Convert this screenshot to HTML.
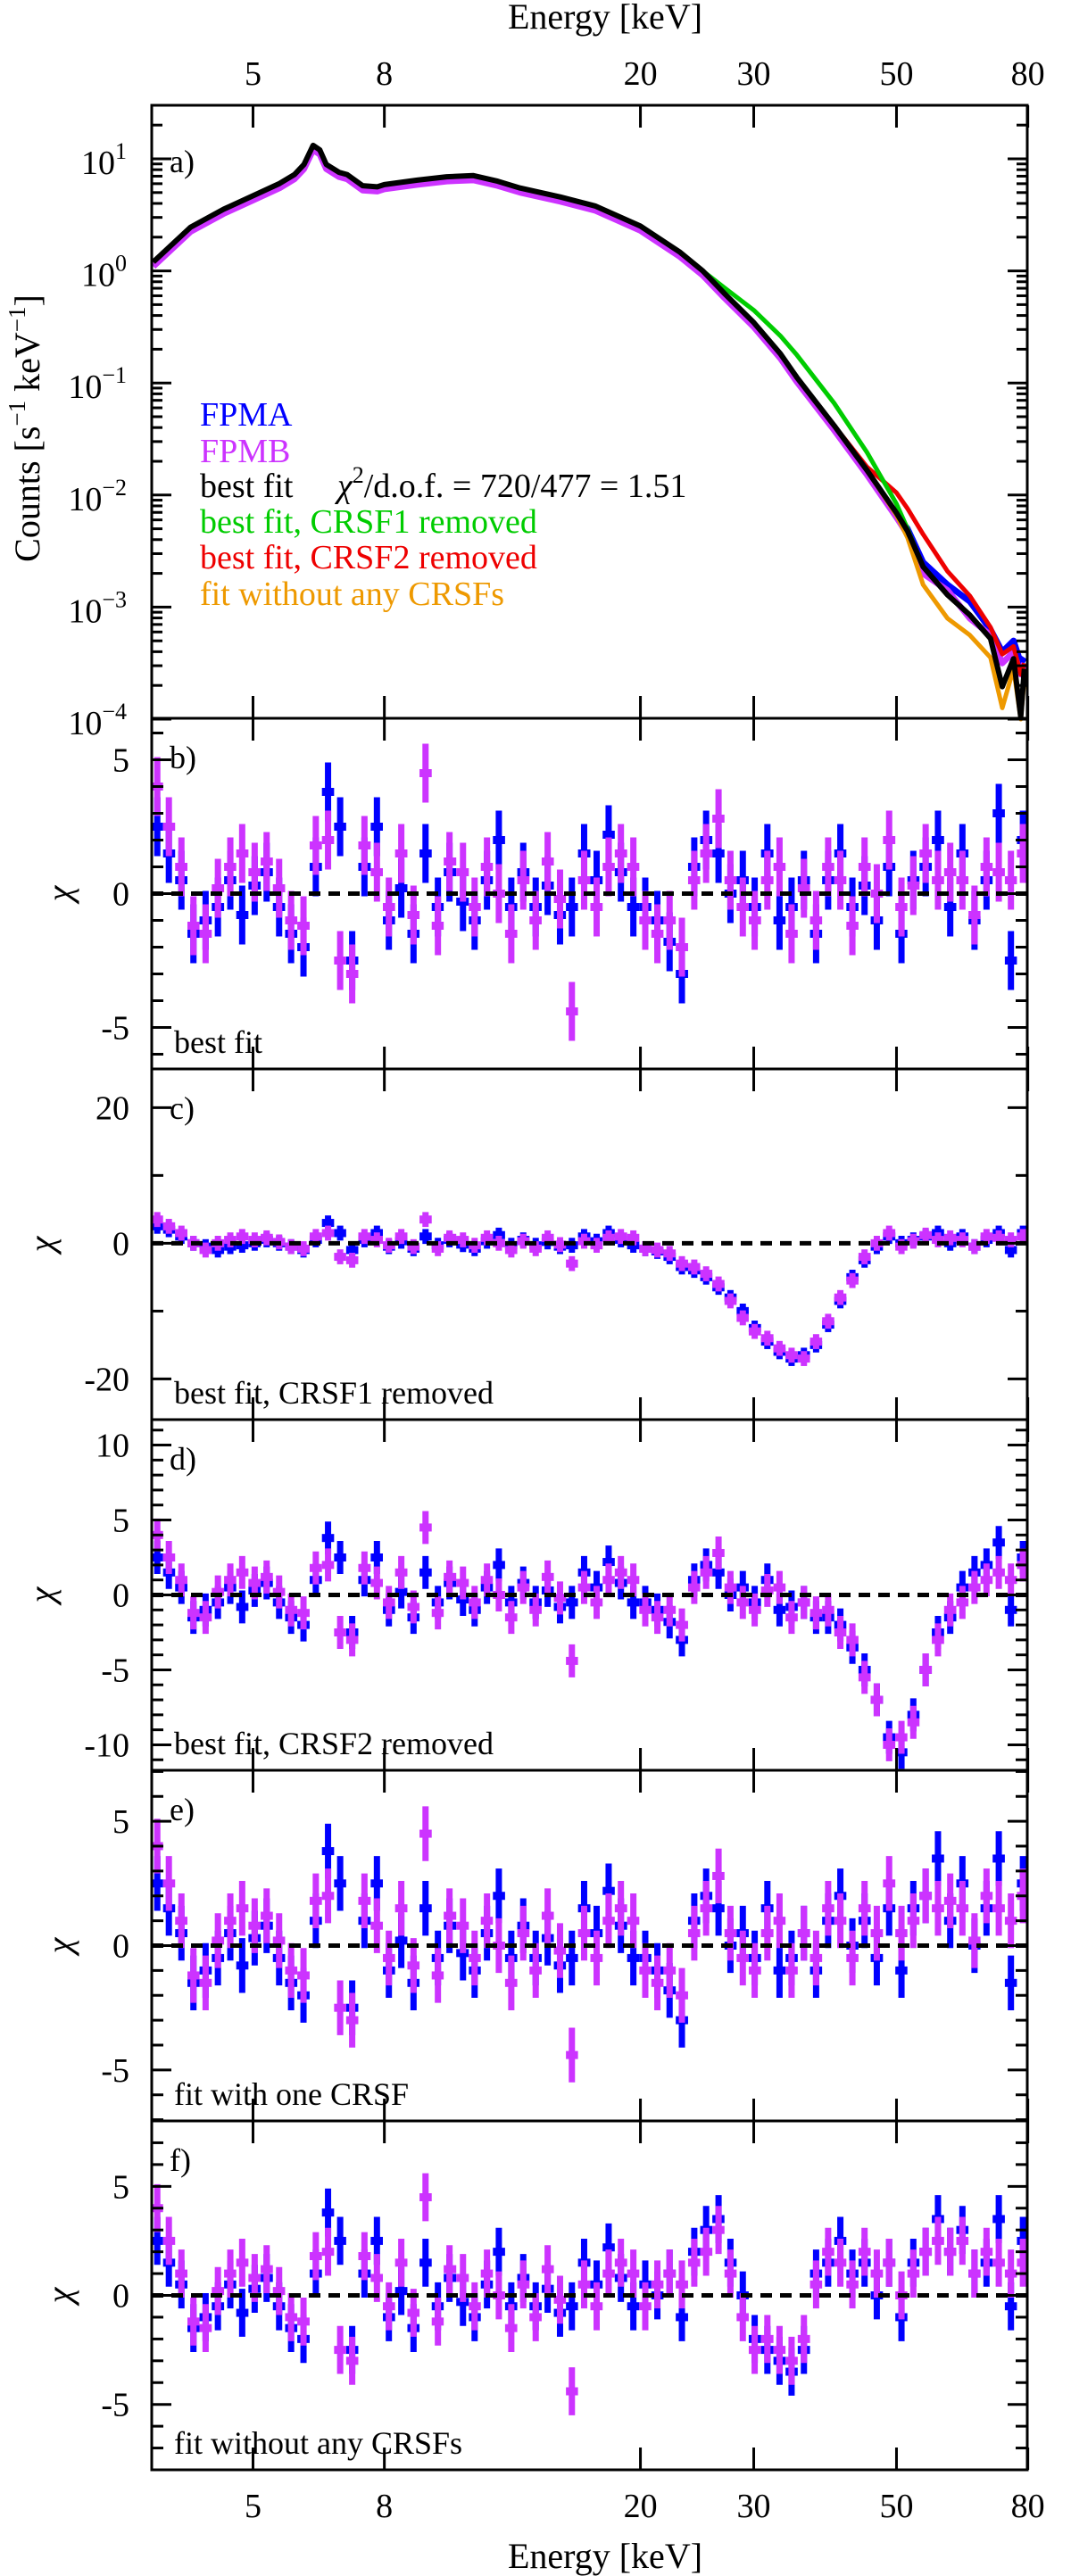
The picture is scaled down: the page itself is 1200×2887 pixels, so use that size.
<!DOCTYPE html>
<html><head><meta charset="utf-8"><style>
html,body{margin:0;padding:0;background:#fff}
svg{display:block}
svg text{font-family:"Liberation Serif",serif !important}
</style></head><body>
<svg id="chart" xmlns="http://www.w3.org/2000/svg" width="1200" height="2887" viewBox="0 0 1200 2887" font-family="Liberation Serif, serif">
<rect width="1200" height="2887" fill="#fff"/>
<g id="layer"></g>
</svg>
<script>
// ---------- data ----------
const xTicks=[5,8,20,30,50,80];
const xTickLabels=["5","8","20","30","50","80"];
const specE=[3.5,4,4.5,5,5.5,5.8,6.0,6.2,6.35,6.5,6.8,7.0,7.4,7.8,8,9,10,11,12,13,15,17,20,23,25,27,30,33,35,40,45,50,52,55,60,65,70,73,76,78,79];
const specBest=[0.08,0.39,0.55,0.67,0.78,0.86,0.95,1.12,1.08,0.95,0.88,0.86,0.76,0.75,0.77,0.81,0.84,0.85,0.80,0.74,0.66,0.58,0.40,0.17,0.0,-0.2,-0.46,-0.74,-0.95,-1.38,-1.78,-2.16,-2.32,-2.64,-2.89,-3.07,-3.28,-3.71,-3.46,-3.98,-3.55];
const specNoCrsf1=[0.08,0.39,0.55,0.67,0.78,0.86,0.95,1.12,1.08,0.95,0.88,0.86,0.76,0.75,0.77,0.81,0.84,0.85,0.80,0.74,0.66,0.58,0.40,0.17,0.0,-0.15,-0.35,-0.58,-0.75,-1.18,-1.62,-2.08,-2.3,-2.64,-2.89,-3.07,-3.28,-3.71,-3.46,-3.98,-3.55];
const specNoCrsf2=[0.08,0.39,0.55,0.67,0.78,0.86,0.95,1.12,1.08,0.95,0.88,0.86,0.76,0.75,0.77,0.81,0.84,0.85,0.80,0.74,0.66,0.58,0.40,0.17,0.0,-0.2,-0.46,-0.74,-0.95,-1.38,-1.75,-1.98,-2.12,-2.35,-2.68,-2.9,-3.18,-3.42,-3.35,-3.6,-3.5];
const specNoCrsfs=[0.08,0.39,0.55,0.67,0.78,0.86,0.95,1.12,1.08,0.95,0.88,0.86,0.76,0.75,0.77,0.81,0.84,0.85,0.80,0.74,0.66,0.58,0.40,0.17,0.0,-0.2,-0.46,-0.74,-0.95,-1.38,-1.78,-2.18,-2.38,-2.8,-3.1,-3.25,-3.45,-3.9,-3.55,-4.0,-3.65];
const specFPMA=[0.06,0.37,0.53,0.65,0.76,0.84,0.93,1.10,1.06,0.93,0.86,0.84,0.74,0.73,0.75,0.79,0.82,0.83,0.78,0.72,0.64,0.56,0.38,0.15,-0.02,-0.22,-0.48,-0.76,-0.97,-1.40,-1.80,-2.18,-2.3,-2.6,-2.8,-2.95,-3.2,-3.4,-3.3,-3.5,-3.45];
const specFPMB=[0.04,0.35,0.51,0.63,0.74,0.82,0.91,1.08,1.04,0.91,0.84,0.82,0.72,0.71,0.73,0.77,0.80,0.81,0.76,0.70,0.62,0.54,0.36,0.13,-0.04,-0.24,-0.5,-0.78,-0.99,-1.42,-1.82,-2.2,-2.35,-2.7,-2.85,-3.1,-3.25,-3.5,-3.4,-3.6,-3.5];

const resE=[3.55,3.7,3.87,4.04,4.22,4.41,4.61,4.81,5.03,5.25,5.49,5.73,5.99,6.26,6.54,6.83,7.13,7.45,7.79,8.13,8.5,8.88,9.27,9.69,10.1,10.6,11.05,11.55,12.05,12.6,13.15,13.75,14.35,15.0,15.65,16.35,17.1,17.85,18.65,19.5,20.35,21.25,22.2,23.2,24.25,25.3,26.45,27.6,28.85,30.1,31.5,32.9,34.35,35.9,37.5,39.15,40.9,42.7,44.6,46.6,48.7,50.9,53.1,55.5,58.0,60.6,63.3,66.1,69.0,72.1,75.3,78.6];
const bA=[2.5,1.5,0.5,-1.5,-1.0,-0.5,0.5,-0.8,0.3,0.8,-0.5,-1.5,-2.0,1.0,3.8,2.5,-2.5,1.0,2.5,-1.0,0.2,-1.5,1.5,-0.5,0.8,-0.3,-1.0,0.5,2.0,-0.5,0.8,-0.5,0.3,-0.8,-0.5,1.5,0.5,2.2,0.8,-0.5,-0.5,-1.0,-1.8,-3.0,1.0,2.0,1.5,0.0,0.5,-0.5,1.5,-1.0,-0.5,0.5,-1.5,0.5,1.5,-0.5,0.3,-1.0,1.0,-1.5,0.5,1.0,2.0,-0.5,1.5,-1.0,0.5,3.0,-2.5,2.0];
const bB=[4.0,2.5,1.0,-1.2,-1.5,0.2,1.0,1.5,0.8,1.2,0.2,-1.0,-1.2,1.8,2.0,-2.5,-3.0,1.8,0.8,-0.5,1.5,-0.8,4.5,-1.2,1.2,0.8,-0.5,1.0,0.0,-1.5,0.5,-1.0,1.2,-0.2,-4.4,0.5,-0.5,1.0,1.5,1.0,-1.0,-1.5,-1.0,-2.0,0.5,1.5,2.8,0.5,-0.5,-1.0,0.5,1.0,-1.5,0.2,-1.0,1.0,0.5,-1.2,1.0,0.0,2.0,-0.5,0.3,1.5,0.5,0.8,0.5,-0.8,1.0,0.8,0.5,1.5];
const cA=[2.5,2.0,1.0,0.0,-0.5,-1.0,-0.5,-0.3,0.0,0.5,0.0,-0.5,-1.0,0.5,3.0,1.5,-1.0,0.5,1.5,-0.5,0.3,-0.8,1.0,-0.3,0.5,-0.2,-0.8,0.3,1.2,-0.3,0.5,-0.3,0.2,-0.5,-0.3,1.0,0.3,1.5,0.5,-0.3,-0.8,-1.2,-2.0,-3.5,-4.0,-5.0,-6.5,-8.0,-10.0,-12.5,-14.5,-16.0,-17.0,-16.5,-15.0,-12.0,-8.5,-5.0,-2.5,-0.5,1.0,0.0,0.5,1.0,1.5,0.0,1.0,-0.5,0.5,1.5,-1.0,1.5];
const cB=[3.5,2.5,1.5,0.0,-1.0,0.0,0.5,1.0,0.5,0.8,0.2,-0.5,-0.8,1.0,1.5,-2.0,-2.5,1.0,0.5,-0.3,1.0,-0.5,3.5,-0.8,0.8,0.5,-0.3,0.8,0.0,-1.0,0.3,-0.8,0.8,-0.2,-3.0,0.3,-0.3,0.8,1.0,0.8,-0.8,-1.0,-1.5,-3.0,-3.5,-4.5,-6.0,-8.5,-11.0,-13.0,-14.0,-15.5,-16.5,-17.0,-14.5,-11.5,-8.0,-5.5,-2.0,0.0,1.5,-0.5,0.3,1.2,0.5,0.8,0.5,-0.5,1.0,0.8,0.5,1.0];
const dA=[2.5,1.5,0.5,-1.5,-1.0,-0.5,0.5,-0.8,0.3,0.8,-0.5,-1.5,-2.0,1.0,3.8,2.5,-2.5,1.0,2.5,-1.0,0.2,-1.5,1.5,-0.5,0.8,-0.3,-1.0,0.5,2.0,-0.5,0.8,-0.5,0.3,-0.8,-0.5,1.5,0.5,2.2,0.8,-0.5,-0.5,-1.0,-1.8,-3.0,1.0,2.0,1.5,0.0,0.5,-0.5,1.0,-1.0,-0.8,-0.5,-1.5,-1.5,-2.0,-3.5,-5.0,-7.0,-9.5,-10.5,-8.0,-5.0,-2.5,-1.5,0.5,1.5,2.0,3.5,-1.0,2.5];
const dB=[4.0,2.5,1.0,-1.2,-1.5,0.2,1.0,1.5,0.8,1.2,0.2,-1.0,-1.2,1.8,2.0,-2.5,-3.0,1.8,0.8,-0.5,1.5,-0.8,4.5,-1.2,1.2,0.8,-0.5,1.0,0.0,-1.5,0.5,-1.0,1.2,-0.2,-4.4,0.5,-0.5,1.0,1.5,1.0,-1.0,-1.5,-1.0,-2.0,0.5,1.5,2.8,0.5,-0.5,-1.0,0.3,0.5,-1.5,-0.5,-1.2,-1.0,-2.5,-3.0,-5.5,-7.0,-10.0,-9.5,-8.5,-5.0,-3.0,-1.0,-0.5,0.5,1.0,1.5,1.0,2.0];
const eA=[2.5,1.5,0.5,-1.5,-1.0,-0.5,0.5,-0.8,0.3,0.8,-0.5,-1.5,-2.0,1.0,3.8,2.5,-2.5,1.0,2.5,-1.0,0.2,-1.5,1.5,-0.5,0.8,-0.3,-1.0,0.5,2.0,-0.5,0.8,-0.5,0.3,-0.8,-0.5,1.5,0.5,2.2,0.8,-0.5,-0.5,-1.0,-1.8,-3.0,1.0,2.0,1.5,0.0,0.5,-0.5,1.5,-1.0,-0.5,0.5,-1.0,1.0,2.0,0.0,1.0,-0.5,1.5,-1.0,1.5,2.0,3.5,1.0,2.5,0.0,1.5,3.5,-1.5,2.5];
const eB=[4.0,2.5,1.0,-1.2,-1.5,0.2,1.0,1.5,0.8,1.2,0.2,-1.0,-1.2,1.8,2.0,-2.5,-3.0,1.8,0.8,-0.5,1.5,-0.8,4.5,-1.2,1.2,0.8,-0.5,1.0,0.0,-1.5,0.5,-1.0,1.2,-0.2,-4.4,0.5,-0.5,1.0,1.5,1.0,-1.0,-1.5,-1.0,-2.0,0.5,1.5,2.8,0.5,-0.5,-1.0,0.5,1.0,-1.0,0.5,-0.5,1.5,1.0,-0.5,1.5,0.5,2.5,0.5,1.0,2.0,1.5,1.8,1.5,0.2,2.0,1.5,1.0,2.0];
const fA=[2.5,1.5,0.5,-1.5,-1.0,-0.5,0.5,-0.8,0.3,0.8,-0.5,-1.5,-2.0,1.0,3.8,2.5,-2.5,1.0,2.5,-1.0,0.2,-1.5,1.5,-0.5,0.8,-0.3,-1.0,0.5,2.0,-0.5,0.8,-0.5,0.3,-0.8,-0.5,1.5,0.5,2.2,0.8,-0.5,0.5,0.0,1.0,-1.0,2.0,3.0,3.5,1.5,0.0,-2.0,-2.5,-3.0,-3.5,-2.5,1.0,1.5,2.5,1.0,1.5,0.0,1.5,-1.0,1.5,2.0,3.5,2.0,3.0,1.0,1.5,3.5,-0.5,2.5];
const fB=[4.0,2.5,1.0,-1.2,-1.5,0.2,1.0,1.5,0.8,1.2,0.2,-1.0,-1.2,1.8,2.0,-2.5,-3.0,1.8,0.8,-0.5,1.5,-0.8,4.5,-1.2,1.2,0.8,-0.5,1.0,0.0,-1.5,0.5,-1.0,1.2,-0.2,-4.4,0.5,-0.5,1.0,1.5,1.0,-0.5,0.5,1.0,0.5,1.5,2.0,3.0,1.0,-1.0,-2.5,-2.0,-2.5,-3.0,-2.0,0.5,2.0,1.5,0.5,2.0,1.0,1.5,0.0,1.0,2.0,2.5,2.0,2.5,1.0,2.0,1.5,1.0,1.5];

// ---------- helpers ----------
const NS="http://www.w3.org/2000/svg";
const layer=document.getElementById('layer');
const X0=170,X1=1151,LMIN=Math.log10(3.48),PXD=721;
function xs(e){return X0+(Math.log10(e)-LMIN)*PXD;}
function mk(tag,attrs,parent){const el=document.createElementNS(NS,tag);for(const k in attrs)el.setAttribute(k,attrs[k]);(parent||layer).appendChild(el);return el;}
function txt(s,x,y,size,anchor,parent,color){const t=mk('text',{x:x,y:y,'font-size':size,'text-anchor':anchor||'start',fill:color||'#000','font-family':'Liberation Serif, serif'},parent);t.textContent=s;return t;}
const BLUE='#0000ff',PURP='#cc33ff';

// ---------- panel a ----------
const aTop=118,aBot=805;
function ya(l){return 178+(1-l)*125.6;}
const gA=mk('g',{});


function curve(vals,color,w,name){
  const p=specE.map((e,i)=>xs(e).toFixed(1)+','+ya(vals[i]).toFixed(1)).join(' ');
  const el=mk('polyline',{points:p,fill:'none',stroke:color,'stroke-width':w,'stroke-linejoin':'round'},gA);
  
  
}
curve(specFPMA,BLUE,7,'fpma-spectrum');
curve(specFPMB,PURP,7,'fpmb-spectrum');
curve(specNoCrsfs,'#ee9900',5,'fit-without-crsfs-curve');
curve(specNoCrsf2,'#ee0000',5,'crsf2-removed-curve');
curve(specNoCrsf1,'#00cc00',5,'crsf1-removed-curve');
curve(specBest,'#000',6,'best-fit-curve');
for(let d=-4;d<=1;d++){
  const y=ya(d);
  mk('line',{x1:X0,x2:X0+22,y1:y,y2:y,stroke:'#000','stroke-width':3},gA);
  mk('line',{x1:X1,x2:X1-22,y1:y,y2:y,stroke:'#000','stroke-width':3},gA);
  const t=mk('text',{x:142,y:y+17,'font-size':38,'text-anchor':'end',fill:'#000'},gA);
  
  
  t.textContent='10';
  const s=mk('tspan',{dy:-17,'font-size':26},t); s.textContent=(d<0?'\u2212'+(-d):String(d));
  for(let m=2;m<=9;m++){
    const ym=ya(d+Math.log10(m));
    if(ym<aTop+1)continue;
    mk('line',{x1:X0,x2:X0+12,y1:ym,y2:ym,stroke:'#000','stroke-width':3},gA);
    mk('line',{x1:X1,x2:X1-12,y1:ym,y2:ym,stroke:'#000','stroke-width':3},gA);
  }
}
{const t=txt('a)',190,193,36,'start',gA);}
const ylab=mk('text',{x:0,y:0,'font-size':40,'text-anchor':'middle',fill:'#000',transform:'translate(44,480) rotate(-90)'},gA);


ylab.innerHTML='Counts [s<tspan dy="-16" font-size="27">\u22121</tspan><tspan dy="16"> keV</tspan><tspan dy="-16" font-size="27">\u22121</tspan><tspan dy="16">]</tspan>';
const legend=[['FPMA',BLUE,477],['FPMB',PURP,518],['best fit','#000',557],['best fit, CRSF1 removed','#00cc00',597],['best fit, CRSF2 removed','#ee0000',637],['fit without any CRSFs','#ee9900',678]];
legend.forEach(l=>{const t=txt(l[0],224,l[2],38,'start',gA,l[1]);});
{const t=mk('text',{x:378,y:557,'font-size':38,fill:'#000'},gA);
t.innerHTML='<tspan font-style="italic">\u03c7</tspan><tspan dy="-16" font-size="26">2</tspan><tspan dy="16">/d.o.f. = 720/477 = 1.51</tspan>';}

// ---------- residual panels ----------
const panels=[
 {id:'b',top:805,bot:1198,min:-6.55,max:6.55,majors:[-5,0,5],minor:1,A:bA,B:bB,text:'best fit',lx:68},
 {id:'c',top:1198,bot:1591,min:-26,max:25.7,majors:[-20,0,20],minor:10,A:cA,B:cB,text:'best fit, CRSF1 removed',lx:48},
 {id:'d',top:1591,bot:1984,min:-11.7,max:11.7,majors:[-10,-5,0,5,10],minor:1,A:dA,B:dB,text:'best fit, CRSF2 removed',lx:48},
 {id:'e',top:1984,bot:2377,min:-7.05,max:7.05,majors:[-5,0,5],minor:1,A:eA,B:eB,text:'fit with one CRSF',lx:68},
 {id:'f',top:2377,bot:2768,min:-8,max:8,majors:[-5,0,5],minor:1,A:fA,B:fB,text:'fit without any CRSFs',lx:68}
];
panels.forEach(p=>{
  const g=mk('g',{});
  
  
  const y=v=>p.bot-(v-p.min)/(p.max-p.min)*(p.bot-p.top);
  const clip=mk('clipPath',{id:'clip'+p.id},g);
  mk('rect',{x:X0,y:p.top,width:X1-X0,height:p.bot-p.top},clip);
  const dg=mk('g',{'clip-path':'url(#clip'+p.id+')'},g);
  [[p.A,BLUE,'fpma'],[p.B,PURP,'fpmb']].forEach(s=>{
    s[0].forEach((v,i)=>{
      const e=resE[i];
      const el=i>0?resE[i-1]:e/1.045, er=i<resE.length-1?resE[i+1]:e*1.045;
      const xl=xs(Math.sqrt(el*e)), xr=xs(Math.sqrt(er*e)), xc=xs(e);
      const grp=mk('g',{},dg);
      
      
      mk('line',{x1:xc,x2:xc,y1:y(v-1.1),y2:y(v+1.1),stroke:s[1],'stroke-width':7},grp);
      mk('line',{x1:xl,x2:xr,y1:y(v),y2:y(v),stroke:s[1],'stroke-width':9},grp);
    });
  });
  const z=mk('line',{x1:X0,x2:X1,y1:y(0),y2:y(0),stroke:'#000','stroke-width':5,'stroke-dasharray':'13 9'},g);
  
  
  for(let v=Math.ceil(p.min/p.minor)*p.minor;v<=p.max;v+=p.minor){
    const yy=y(v),maj=p.majors.includes(v);
    const L=maj?22:13;
    mk('line',{x1:X0,x2:X0+L,y1:yy,y2:yy,stroke:'#000','stroke-width':3},g);
    mk('line',{x1:X1,x2:X1-L,y1:yy,y2:yy,stroke:'#000','stroke-width':3},g);
  }
  p.majors.forEach(v=>{
    const t=txt(v<0?'-'+(-v):String(v),145,y(v)+13,38,'end',g);
    
    
  });
  const cy=(p.top+p.bot)/2;
  const chi=mk('text',{x:0,y:0,'font-size':40,'font-style':'italic','text-anchor':'middle',fill:'#000',transform:'translate('+(p.lx+12)+','+cy+') rotate(-90)'},g);
  
  
  chi.textContent='\u03c7';
  const lt=txt(p.id+')',190,p.top+56,36,'start',g);
  
  
  const bt=txt(p.text,195,p.bot-18,36,'start',g);
  
  
});

// ---------- frames & x ticks ----------
const bounds=[118,805,1198,1591,1984,2377,2768];
for(let i=0;i<bounds.length-1;i++){
  const t=bounds[i],b=bounds[i+1];
  mk('rect',{x:X0,y:t,width:X1-X0,height:b-t,fill:'none',stroke:'#000','stroke-width':3});
  xTicks.forEach(e=>{const x=xs(e);
    mk('line',{x1:x,x2:x,y1:t,y2:t+25,stroke:'#000','stroke-width':3});
    mk('line',{x1:x,x2:x,y1:b,y2:b-25,stroke:'#000','stroke-width':3});});
}
xTicks.forEach((e,i)=>{
  const a=txt(xTickLabels[i],xs(e),95,38,'middle');
  
  
  const b=txt(xTickLabels[i],xs(e),2821,38,'middle');
  
  
});
{const t=txt('Energy [keV]',678,32,40,'middle');}
{const t=txt('Energy [keV]',678,2878,40,'middle');}
</script>
</body></html>
